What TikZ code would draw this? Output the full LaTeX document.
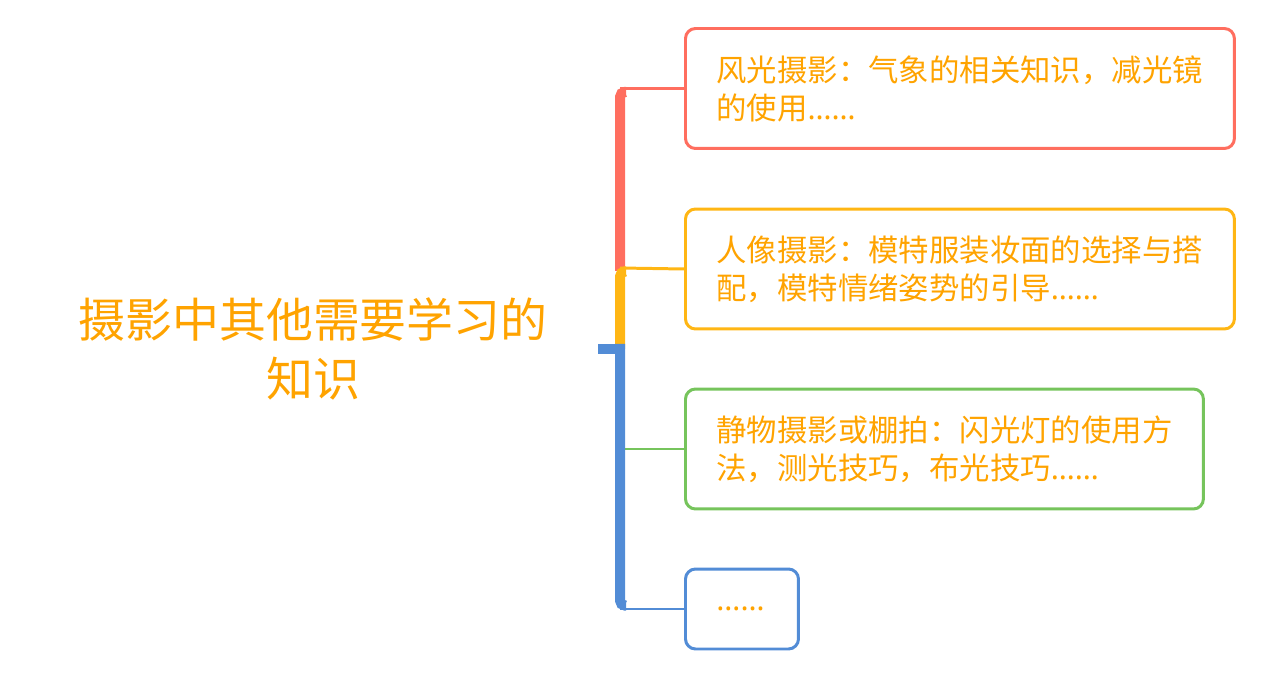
\documentclass[tikz,border=0pt]{standalone}
\usepackage{fontspec}
\setmainfont{Noto Sans CJK SC}
\newfontfamily\latinfont{Noto Sans}
\newcommand{\ellip}{{\latinfont ……}}
\definecolor{txtorange}{RGB}{255,163,0}
\definecolor{redline}{RGB}{255,110,95}
\definecolor{yelline}{RGB}{255,182,20}
\definecolor{greenline}{RGB}{118,196,92}
\definecolor{blueline}{RGB}{82,140,214}
\begin{document}
\begin{tikzpicture}[x=0.02cm, y=-0.02cm,
    box/.style={draw, line width=1.7pt, rounded corners=0.2cm, anchor=west, inner xsep=0.62cm,
      minimum height=2.4cm, text width=9.74cm, align=left, text=txtorange,
      font=\fontsize{17.3}{21.6}\selectfont},
    spine/.style={line width=5.7pt, rounded corners=0.1cm},
    twig/.style={line width=1.7pt}]
  \useasboundingbox (0,0) rectangle (1264,678);
  \node[align=center, text=txtorange, font=\fontsize{26.7}{34}\selectfont] (t0) at (313,349) {摄影中其他需要学习的\\知识};
  \node[box, draw=redline] (b1) at (684,88.5) {风光摄影：气象的相关知识，减光镜\\的使用\ellip};
  \node[box, draw=yelline] (b2) at (684,269) {人像摄影：模特服装妆面的选择与搭\\配，模特情绪姿势的引导\ellip};
  \node[box, draw=greenline, text width=9.12cm] (b3) at (684,449) {静物摄影或棚拍：闪光灯的使用方\\法，测光技巧，布光技巧\ellip};
  \node[box, draw=blueline, text width=1.02cm, minimum height=1.6cm] (b4) at (684,609) {\ellip};
  \coordinate (h0) at (598,349); \coordinate (h1) at (625,349);
  \coordinate (s1) at (620,92); \coordinate (s2) at (620,271.5); \coordinate (s4) at (620,605.5);
  \coordinate (k1) at (620,88.5); \coordinate (k2) at (620,268); \coordinate (k3) at (620,449); \coordinate (k4) at (620,609);
  \draw[spine, redline] (620,271) -- (s1) -- ++(6,0);
  \draw[twig, redline] (k1) -- (b1.west);
  \draw[spine, yelline] (620,349) -- (s2) -- ++(6,0);
  \draw[twig, yelline] (k2) -- (b2.west);
  \draw[twig, greenline] (k3) -- (b3.west);
  \draw[spine, blueline] (620,344) -- (s4) -- ++(6,0);
  \draw[spine, blueline] (h0) -- (h1);
  \draw[twig, blueline] (k4) -- (b4.west);
\end{tikzpicture}
\end{document}
